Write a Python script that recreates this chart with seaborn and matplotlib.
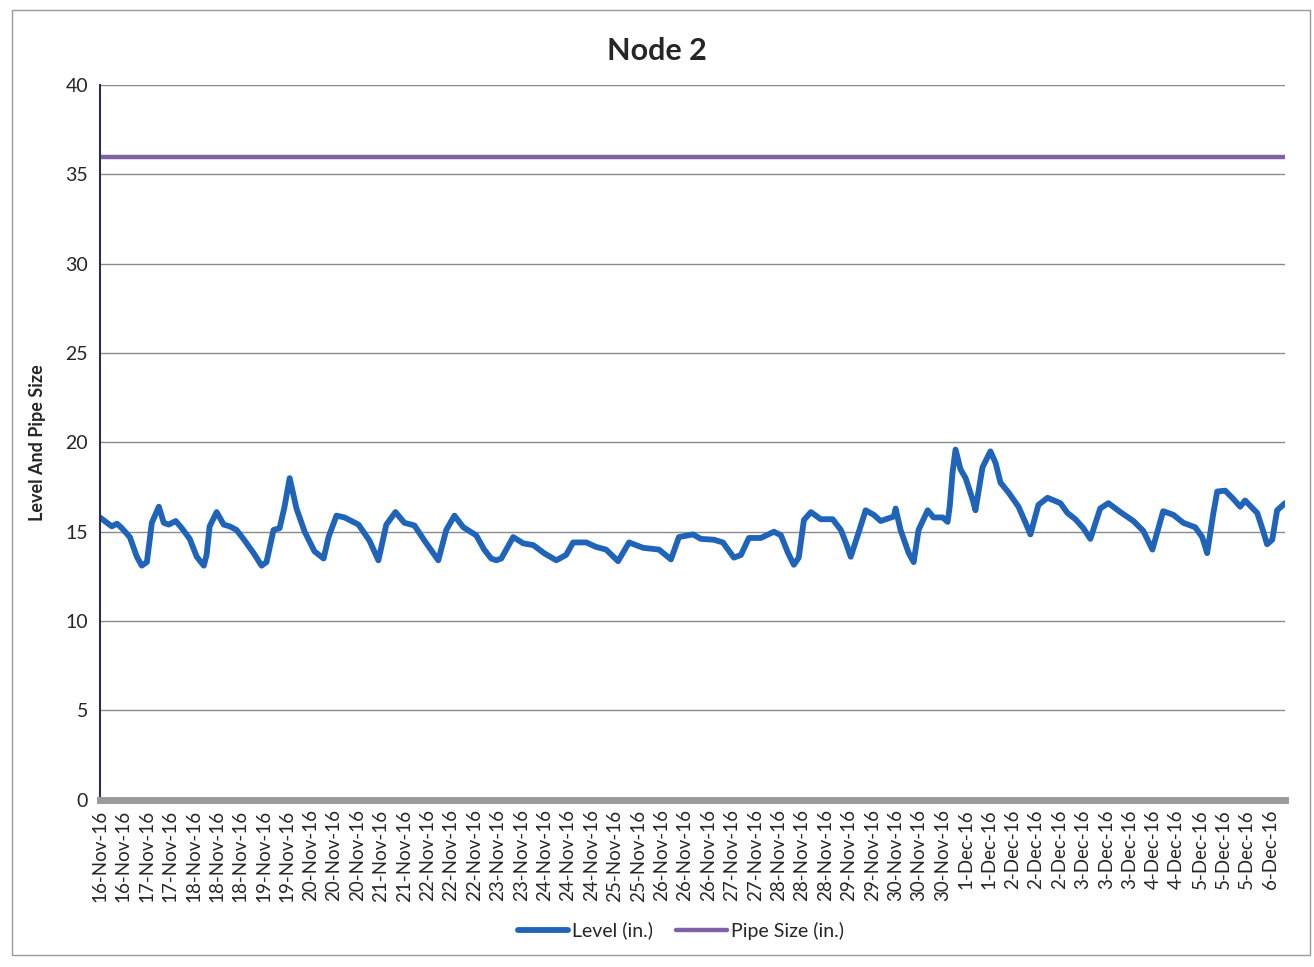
import matplotlib
matplotlib.use("Agg")
import matplotlib.pyplot as plt
import pandas as pd
import seaborn as sns

# x positions are in units of the category tick spacing (one tick label per step)
tick_labels = [
    "16-Nov-16", "16-Nov-16", "17-Nov-16", "17-Nov-16", "18-Nov-16", "18-Nov-16",
    "18-Nov-16", "19-Nov-16", "19-Nov-16", "20-Nov-16", "20-Nov-16", "20-Nov-16",
    "21-Nov-16", "21-Nov-16", "22-Nov-16", "22-Nov-16", "22-Nov-16", "23-Nov-16",
    "23-Nov-16", "24-Nov-16", "24-Nov-16", "24-Nov-16", "25-Nov-16", "25-Nov-16",
    "26-Nov-16", "26-Nov-16", "26-Nov-16", "27-Nov-16", "27-Nov-16", "28-Nov-16",
    "28-Nov-16", "28-Nov-16", "29-Nov-16", "29-Nov-16", "30-Nov-16", "30-Nov-16",
    "30-Nov-16", "1-Dec-16", "1-Dec-16", "2-Dec-16", "2-Dec-16", "2-Dec-16",
    "3-Dec-16", "3-Dec-16", "3-Dec-16", "4-Dec-16", "4-Dec-16", "5-Dec-16",
    "5-Dec-16", "5-Dec-16", "6-Dec-16",
]

level_pos = [
    0.00, 0.51, 0.73, 0.94, 1.28, 1.58, 1.79, 2.01, 2.22, 2.52, 2.73, 2.94,
    3.24, 3.50, 3.84, 4.14, 4.44, 4.56, 4.69, 4.99, 5.29, 5.55, 5.84, 6.19,
    6.57, 6.91, 7.12, 7.42, 7.68, 7.89, 8.11, 8.40, 8.75, 9.17, 9.56, 9.77,
    10.11, 10.45, 11.05, 11.52, 11.90, 12.24, 12.63, 13.01, 13.44, 13.87, 14.46, 14.80,
    15.15, 15.53, 16.08, 16.42, 16.72, 16.94, 17.15, 17.66, 18.09, 18.52, 18.98, 19.50,
    19.92, 20.22, 20.78, 21.20, 21.63, 22.14, 22.61, 23.21, 23.89, 24.40, 24.74, 25.34,
    25.68, 26.24, 26.62, 27.09, 27.39, 27.73, 28.24, 28.80, 29.10, 29.39, 29.65, 29.86,
    30.08, 30.38, 30.80, 31.31, 31.66, 31.87, 32.08, 32.38, 32.72, 33.06, 33.36, 33.92,
    34.00, 34.21, 34.56, 34.77, 34.98, 35.37, 35.62, 36.01, 36.22, 36.31, 36.43, 36.56,
    36.77, 36.99, 37.29, 37.41, 37.71, 38.05, 38.27, 38.48, 38.82, 39.25, 39.55, 39.76,
    40.10, 40.49, 41.04, 41.34, 41.68, 42.02, 42.32, 42.74, 43.09, 43.60, 44.16, 44.58,
    44.97, 45.43, 45.86, 46.29, 46.80, 47.10, 47.31, 47.57, 47.74, 48.08, 48.42, 48.72,
    48.93, 49.45, 49.70, 49.87, 50.09, 50.30, 50.64,
]

level = [
    15.8, 15.3, 15.45, 15.2, 14.7, 13.6, 13.1, 13.3, 15.5, 16.4, 15.5, 15.4,
    15.6, 15.2, 14.6, 13.6, 13.1, 13.7, 15.3, 16.1, 15.4, 15.3, 15.1, 14.5,
    13.8, 13.1, 13.3, 15.1, 15.2, 16.4, 18.0, 16.3, 15.0, 13.9, 13.5, 14.7,
    15.9, 15.8, 15.4, 14.5, 13.4, 15.4, 16.1, 15.5, 15.35, 14.5, 13.4, 15.1,
    15.9, 15.25, 14.8, 14.0, 13.5, 13.4, 13.5, 14.7, 14.35, 14.25, 13.8, 13.4,
    13.7, 14.4, 14.4, 14.15, 14.0, 13.35, 14.4, 14.1, 14.0, 13.45, 14.7, 14.85,
    14.6, 14.55, 14.4, 13.55, 13.7, 14.65, 14.65, 15.0, 14.8, 13.85, 13.15, 13.55,
    15.65, 16.1, 15.7, 15.7, 15.1, 14.4, 13.6, 14.8, 16.2, 15.95, 15.6, 15.85,
    16.3, 15.1, 13.8, 13.3, 15.1, 16.2, 15.8, 15.8, 15.55, 16.4, 18.3, 19.6,
    18.5, 18.0, 16.8, 16.2, 18.6, 19.5, 18.85, 17.75, 17.2, 16.4, 15.5, 14.85,
    16.5, 16.9, 16.6, 16.05, 15.7, 15.2, 14.6, 16.3, 16.6, 16.1, 15.6, 15.05,
    14.0, 16.15, 15.95, 15.5, 15.25, 14.7, 13.8, 16.0, 17.25, 17.3, 16.85, 16.4,
    16.75, 16.05, 15.05, 14.3, 14.55, 16.2, 16.6,
]

pipe_pos = [0.0, 50.64]
pipe_size = [36.0, 36.0]

level_df = pd.DataFrame({"pos": level_pos, "value": level})
pipe_df = pd.DataFrame({"pos": pipe_pos, "value": pipe_size})

sns.set_theme(style="white")
plt.rcParams["font.family"] = ["Lato", "DejaVu Sans"]

fig = plt.figure(figsize=(13.14, 9.67), dpi=100)
ax = fig.add_axes([0.076, 0.173, 0.902, 0.739])

sns.lineplot(data=level_df, x="pos", y="value", ax=ax, color="#1f64b8",
             linewidth=4.2, label="Level (in.)")
sns.lineplot(data=pipe_df, x="pos", y="value", ax=ax, color="#7e62a8",
             linewidth=3.2, label="Pipe Size (in.)")

ax.set_xlim(0, 50.64)
ax.set_ylim(0, 40)
ax.set_yticks(range(0, 41, 5))
ax.set_xticks(range(len(tick_labels)))
ax.set_xticklabels(tick_labels, rotation=90, fontsize=13.5)
ax.tick_params(axis="y", labelsize=14, length=5, color="#333333")
ax.tick_params(axis="x", length=0, pad=7)
ax.yaxis.grid(True, color="#8a8a8a", linewidth=1)
ax.set_axisbelow(True)

for side in ("top", "right"):
    ax.spines[side].set_visible(False)
ax.spines["left"].set_color("#2a2f4a")
ax.spines["left"].set_linewidth(1.5)
ax.spines["bottom"].set_color("#9a9a9a")
ax.spines["bottom"].set_linewidth(5)

ax.set_xlabel("")
ax.set_ylabel("Level And Pipe Size", fontsize=13, fontweight="bold", labelpad=14)
fig.suptitle("Node 2", fontsize=22, fontweight="bold", y=0.962)

ax.legend(loc="center", bbox_to_anchor=(0.49, -0.183), ncol=2, frameon=False,
          fontsize=14, handlelength=2.6, columnspacing=1.2, handletextpad=0.2)

fig.patches.append(plt.Rectangle((0.009, 0.012), 0.988, 0.978, transform=fig.transFigure,
                                 fill=False, edgecolor="#9a9a9a", linewidth=1))

fig.savefig("out.png", dpi=100)
